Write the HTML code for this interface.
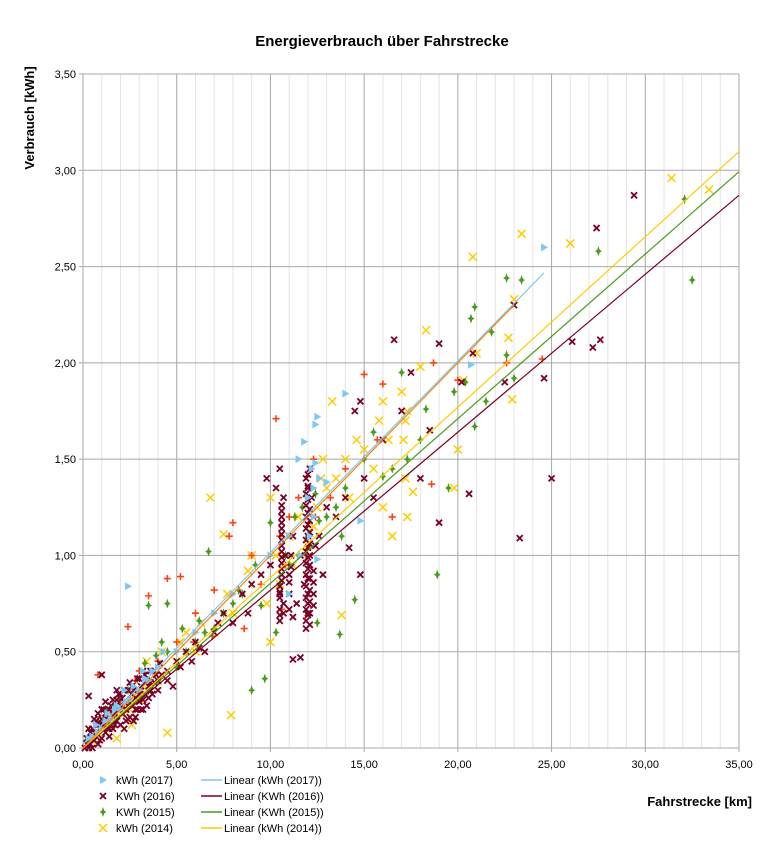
<!DOCTYPE html>
<html><head><meta charset="utf-8"><style>
body{margin:0;background:#fff;font-family:"Liberation Sans",sans-serif}
svg text{font-family:"Liberation Sans","DejaVu Sans",sans-serif}
</style></head><body>
<svg id="chart" width="764" height="839" xmlns="http://www.w3.org/2000/svg">
<rect width="764" height="839" fill="#fff"/>
<text x="382" y="46" text-anchor="middle" font-size="15" font-weight="bold">Energieverbrauch über Fahrstrecke</text>
<text transform="translate(34,118) rotate(-90)" text-anchor="middle" font-size="13" font-weight="bold">Verbrauch [kWh]</text>
<text x="752" y="806" text-anchor="end" font-size="13" font-weight="bold">Fahrstrecke [km]</text>
<g id="grid"></g><g id="marks"></g><g id="lines"></g><g id="legend"></g>
</svg>
<script>
const xTicks=[0,5,10,15,20,25,30,35];
const yTicks=[0,0.5,1,1.5,2,2.5,3,3.5];
const xLabels=["0,00","5,00","10,00","15,00","20,00","25,00","30,00","35,00"];
const yLabels=["0,00","0,50","1,00","1,50","2,00","2,50","3,00","3,50"];
const s2017=[[0.5,0.06],[1,0.1],[1.5,0.15],[2,0.2],[2.4,0.84],[2.5,0.25],[3,0.3],[3.5,0.35],[4,0.42],[0.8,0.08],[1.2,0.14],[5,0.5],[6,0.6],[7,0.7],[8,0.8],[10,1.0],[11,1.1],[11.5,1.5],[11.8,1.59],[12.5,1.72],[12.4,1.68],[12.2,1.45],[12,1.3],[12.3,1.35],[13,1.38],[14,1.84],[14.8,1.18],[11,0.8],[20.7,1.99],[24.6,2.6],[12.4,1.48],[1.8,0.22],[3.2,0.4],[2.2,0.3],[0.3,0.05],[0.7,0.12],[1.3,0.18],[1.7,0.2],[2.3,0.24],[2.7,0.32],[3.3,0.36],[3.7,0.4],[4.3,0.5],[12.1,1.1],[12.3,1.2],[11.6,1.0],[12.5,0.98],[12.6,1.4]];
const s2016=[[0.2,0.02],[0.4,0.05],[0.6,0.08],[0.8,0.12],[1,0.15],[1.2,0.18],[1.4,0.1],[1.6,0.2],[1.8,0.25],[2,0.22],[2.2,0.3],[2.4,0.15],[2.6,0.28],[2.8,0.2],[3,0.3],[3.2,0.25],[3.4,0.35],[3.6,0.3],[3.8,0.4],[4,0.35],[4.5,0.4],[5,0.45],[5.5,0.5],[6,0.55],[6.5,0.5],[7,0.6],[7.5,0.7],[8,0.65],[8.5,0.8],[9,0.85],[9.5,0.9],[10,0.95],[10.5,0.8],[10.6,1.2],[10.7,0.7],[10.8,1.0],[11,0.9],[11.2,1.1],[11.4,0.75],[11.6,1.0],[11.8,0.85],[11.9,1.2],[12,0.7],[12.1,0.95],[12.2,1.3],[12.3,0.8],[12.4,1.05],[12.6,1.1],[12.8,0.9],[13,1.25],[13.5,1.2],[14,1.3],[14.5,1.75],[14.8,1.8],[15,1.4],[15.5,1.3],[16,1.6],[17,1.75],[17.5,1.95],[18,1.4],[18.5,1.65],[19,1.17],[19,2.1],[20.2,1.9],[20.6,1.32],[20.8,2.05],[22.5,1.9],[23,2.3],[23.3,1.09],[24.6,1.92],[25,1.4],[26.1,2.11],[27.2,2.08],[27.4,2.7],[27.6,2.12],[29.4,2.87],[9.8,1.4],[10.3,1.35],[14.2,1.04],[14.8,0.9],[16.6,2.12],[11.2,0.46],[11.6,0.47],[1,0.38],[0.3,0.27],[12,1.35],[10.5,1.45]];
const dense2016=[[0.1,0.0],[0.2,0.05],[0.3,0.0],[0.3,0.1],[0.4,0.02],[0.5,0.1],[0.5,0.0],[0.6,0.15],[0.6,0.04],[0.7,0.08],[0.8,0.18],[0.8,0.02],[0.9,0.1],[1.0,0.05],[1.0,0.2],[1.1,0.12],[1.2,0.08],[1.2,0.24],[1.3,0.15],[1.4,0.2],[1.4,0.06],[1.5,0.12],[1.6,0.25],[1.6,0.1],[1.7,0.18],[1.8,0.14],[1.8,0.3],[1.9,0.2],[2.0,0.12],[2.0,0.28],[2.1,0.18],[2.2,0.24],[2.2,0.1],[2.3,0.2],[2.4,0.3],[2.5,0.16],[2.5,0.34],[2.6,0.22],[2.7,0.3],[2.7,0.14],[2.8,0.26],[2.9,0.36],[2.9,0.2],[3.0,0.24],[3.1,0.32],[3.2,0.2],[3.2,0.4],[3.3,0.28],[3.4,0.22],[3.5,0.32],[3.6,0.4],[3.7,0.28],[3.8,0.34],[4.0,0.3],[4.2,0.38],[4.5,0.35],[4.8,0.32],[5.2,0.42],[5.8,0.45],[6.2,0.52],[7.2,0.65],[8.8,0.7],
[0.4,0.08],[0.7,0.14],[0.9,0.04],[1.1,0.2],[1.3,0.1],[1.5,0.22],[1.7,0.12],[1.9,0.28],[2.1,0.26],[2.3,0.14],[2.4,0.22],[2.6,0.32],[2.8,0.16],[3.0,0.36],[3.1,0.2],[3.3,0.38],[3.5,0.26],[3.6,0.34],[3.9,0.38],[4.1,0.44],[1.0,0.12],[2.0,0.2],[3.0,0.28],
[10.5,0.66],[10.5,0.72],[10.5,0.78],[10.5,0.84],[10.6,0.9],[10.6,0.96],[10.6,1.02],[10.6,1.08],[10.6,1.14],[10.6,1.26],[10.7,1.3],[10.7,0.75],[11.0,0.72],[11.0,0.8],[11.0,0.86],[11.1,0.94],[11.1,1.0],[11.2,0.68],
[10.5,0.69],[10.5,0.81],[10.6,0.87],[10.6,0.93],[10.6,0.99],[10.6,1.05],[10.6,1.11],[10.6,1.17],[10.6,1.23],
[11.9,0.62],[11.9,0.66],[11.9,0.72],[11.9,0.78],[11.9,0.84],[11.9,0.9],[11.9,0.96],[11.9,1.02],[11.9,1.08],[11.9,1.14],[11.9,1.26],[11.9,1.32],[11.9,1.4],[12.1,0.64],[12.1,0.7],[12.1,0.76],[12.1,0.82],[12.1,0.88],[12.1,1.0],[12.1,1.06],[12.1,1.12],[12.1,1.18],[12.1,1.24],[12.1,1.45],[12.3,0.74],[12.3,0.86],[12.3,0.92],[12.0,0.88],[12.0,0.8],[12.0,1.04],
[12.0,0.69],[12.0,0.75],[12.0,0.93],[12.0,0.99],[12.0,1.1],[12.0,1.16],[12.0,1.22],[12.0,1.29],[12.0,1.36],[12.0,1.42]];
const s2015=[[0.3,0.03],[0.6,0.06],[1,0.1],[1.4,0.12],[1.8,0.16],[2.2,0.2],[2.6,0.24],[3,0.26],[3.5,0.3],[4,0.35],[4.5,0.5],[5,0.42],[5.5,0.5],[6,0.55],[6.5,0.6],[6.7,1.02],[7,0.62],[7.5,0.7],[8,0.75],[8.5,0.8],[9,0.3],[9.5,0.74],[9.7,0.36],[10,1.17],[10.5,0.85],[11,0.95],[11.5,1.0],[12,1.1],[12.5,0.65],[13,1.2],[13.5,1.25],[13.7,0.59],[14,1.35],[14.5,0.77],[15,1.5],[15.5,1.64],[16,1.41],[16.5,1.45],[17,1.95],[17.3,1.5],[18,1.6],[18.3,1.76],[18.9,0.9],[19.5,1.35],[19.8,1.85],[20.4,1.9],[20.7,2.23],[20.9,2.29],[20.9,1.67],[21.8,2.16],[21.5,1.8],[22.6,2.44],[22.6,2.04],[23,1.92],[23.4,2.43],[27.5,2.58],[32.1,2.85],[32.5,2.43],[3.5,0.74],[2,0.25],[1.2,0.2],[4.5,0.75],[0.8,0.14],[1.6,0.22],[2.4,0.3],[2.9,0.36],[3.3,0.44],[3.9,0.48],[4.2,0.55],[5.3,0.62],[6.2,0.66],[8.3,0.82],[10.8,1.0],[11.3,1.2],[12.4,1.32],[12.6,1.18],[11.7,1.25],[10.3,0.6],[13.8,1.1],[9.2,0.95]];
const s2014=[[0.5,0.04],[1,0.1],[1.5,0.12],[2,0.18],[2.5,0.2],[3,0.25],[3.5,0.3],[4,0.35],[4.5,0.08],[5,0.45],[5.5,0.6],[6,0.5],[6.8,1.3],[7,0.6],[7.5,1.11],[7.9,0.17],[8,0.7],[9,1.0],[10,0.55],[10,1.3],[10.5,0.85],[11,1.1],[11.5,1.2],[12,1.05],[12.5,1.25],[13,1.35],[13.3,1.8],[13.8,0.69],[14,1.5],[14.6,1.6],[15,1.55],[15.8,1.7],[16,1.8],[16,1.25],[16.5,1.1],[17,1.85],[17.1,1.6],[17.2,1.4],[17.3,1.2],[17.3,1.75],[17.6,1.33],[18.3,2.17],[19.8,1.35],[20,1.55],[20.3,1.91],[20.8,2.55],[21,2.05],[22.7,2.13],[23,2.33],[23.4,2.67],[26,2.62],[31.4,2.96],[33.4,2.9],[22.9,1.81],[18,1.98],[1.2,0.15],[0.8,0.08],[1.8,0.05],[2.6,0.12],[3.4,0.45],[4.2,0.5],[5.2,0.55],[6.3,0.65],[7.7,0.8],[8.8,0.92],[10.3,1.0],[11.2,0.95],[12.3,1.15],[12.7,1.4],[13.5,1.4],[14.2,1.3],[15.5,1.45],[16.3,1.6],[17.2,1.7],[9.8,0.75],[12.8,1.5]];
const s2018=[[0.5,0.05],[1,0.12],[1.5,0.18],[2,0.22],[2.5,0.25],[2.4,0.63],[3,0.3],[3.5,0.79],[4,0.45],[4.5,0.88],[5.2,0.89],[6,0.7],[7,0.82],[7.8,1.1],[8,1.17],[9,1.0],[10.3,1.71],[10.5,1.1],[11,1.2],[11.5,1.3],[12.3,1.5],[14,1.45],[15,1.94],[15.7,1.6],[16,1.89],[16.5,1.2],[18.6,1.37],[18.7,2.0],[20,1.91],[22.6,2.0],[24.5,2.02],[1.3,0.15],[3,0.4],[5,0.55],[0.8,0.38],[2.8,0.35],[5.9,0.55],[6.9,0.58],[9.5,0.85],[10.8,0.95],[11.9,1.0],[12.4,1.2],[13.2,1.3],[10.6,0.72],[8.6,0.62]];
const fit2017=[0.02,0.0995,24.6];
const fit2016=[0.0,0.082,35];
const fit2015=[0.0,0.0855,35];
const fit2014=[0.0,0.0885,35];
const fit2018=[0.0,0.1,23];

const X0=83,X1=739,Y0=748,Y1=74;
const sx=v=>X0+(v/35)*(X1-X0);
const sy=v=>Y0-(v/3.5)*(Y0-Y1);
const NS="http://www.w3.org/2000/svg";
function mk(tag,a,parent){const e=document.createElementNS(NS,tag);for(const k in a)e.setAttribute(k,a[k]);parent.appendChild(e);return e;}
const grid=document.getElementById('grid'),marks=document.getElementById('marks'),lines=document.getElementById('lines'),legend=document.getElementById('legend');
for(let k=1;k<35;k++){if(k%5)mk('line',{x1:sx(k),x2:sx(k),y1:Y1,y2:Y0,stroke:'#e4e4e4','stroke-width':1},grid);}
xTicks.forEach((v,i)=>{const l=mk('line',{x1:sx(v),x2:sx(v),y1:Y1,y2:Y0+4,stroke:'#a8a8a8','stroke-width':1},grid);

const t=mk('text',{x:sx(v),y:Y0+20,'text-anchor':'middle','font-size':11},grid);t.textContent=xLabels[i];
});
yTicks.forEach((v,i)=>{const l=mk('line',{x1:X0-4,x2:X1,y1:sy(v),y2:sy(v),stroke:'#a8a8a8','stroke-width':1},grid);

const t=mk('text',{x:X0-7,y:sy(v)+4,'text-anchor':'end','font-size':11},grid);t.textContent=yLabels[i];
});
function marker(type,x,y,parent){
 if(type==='tri')return mk('path',{d:`M${x-3},${y-4}L${x+4},${y}L${x-3},${y+4}Z`,fill:'#7ec8f8'},parent);
 if(type==='x16')return mk('path',{d:`M${x-3},${y-3}L${x+3},${y+3}M${x-3},${y+3}L${x+3},${y-3}`,stroke:'#7a0026','stroke-width':1.8},parent);
 if(type==='star')return mk('path',{d:`M${x},${y-5}L${x+1.3},${y-1.3}L${x+3.5},${y}L${x+1.3},${y+1.3}L${x},${y+5}L${x-1.3},${y+1.3}L${x-3.5},${y}L${x-1.3},${y-1.3}Z`,fill:'#4a9a20'},parent);
 if(type==='x14')return mk('path',{d:`M${x-4},${y-4}L${x+4},${y+4}M${x-4},${y+4}L${x+4},${y-4}`,stroke:'#ffcc00','stroke-width':1.5},parent);
 return mk('path',{d:`M${x-3.5},${y}L${x+3.5},${y}M${x},${y-3.5}L${x},${y+3.5}`,stroke:'#ff4010','stroke-width':1.6},parent);
}
const series=[[s2014,'x14','points-2014'],[s2015,'star','points-2015'],[s2018,'plus','points-other'],[s2016,'x16','points-2016'],[dense2016,'x16','points-2016-dense'],[s2017,'tri','points-2017']];
series.forEach(([d,t,n])=>{const g=mk('g',{},marks);
 d.forEach(p=>{const m=marker(t,sx(p[0]),sy(p[1]),g);});});
const fits=[[fit2017,'#7ec8f8','trend-2017'],[fit2016,'#7a0026','trend-2016'],[fit2015,'#4a9a20','trend-2015'],[fit2014,'#ffcc00','trend-2014'],[fit2018,'#ff8000','trend-other']];
fits.forEach(([f,c,n])=>{const l=mk('line',{x1:sx(0),y1:sy(f[0]),x2:sx(f[2]),y2:sy(f[0]+f[1]*f[2]),stroke:c,'stroke-width':1.2},lines);
 });
const legNames=['kWh (2017)','KWh (2016)','KWh (2015)','kWh (2014)'];
const legTypes=['tri','x16','star','x14'];
const legColors=['#7ec8f8','#7a0026','#4a9a20','#ffcc00'];
legNames.forEach((nm,i)=>{const y=780+i*16;
 const g=mk('g',{},legend);
 marker(legTypes[i],103,y,g);
 const t=mk('text',{x:116,y:y+4,'font-size':11},g);t.textContent=nm;
 const g2=mk('g',{},legend);
 mk('line',{x1:201,x2:222,y1:y,y2:y,stroke:legColors[i],'stroke-width':1.5},g2);
 const t2=mk('text',{x:224,y:y+4,'font-size':11},g2);t2.textContent='Linear ('+nm+')';
});
</script>
</body></html>
